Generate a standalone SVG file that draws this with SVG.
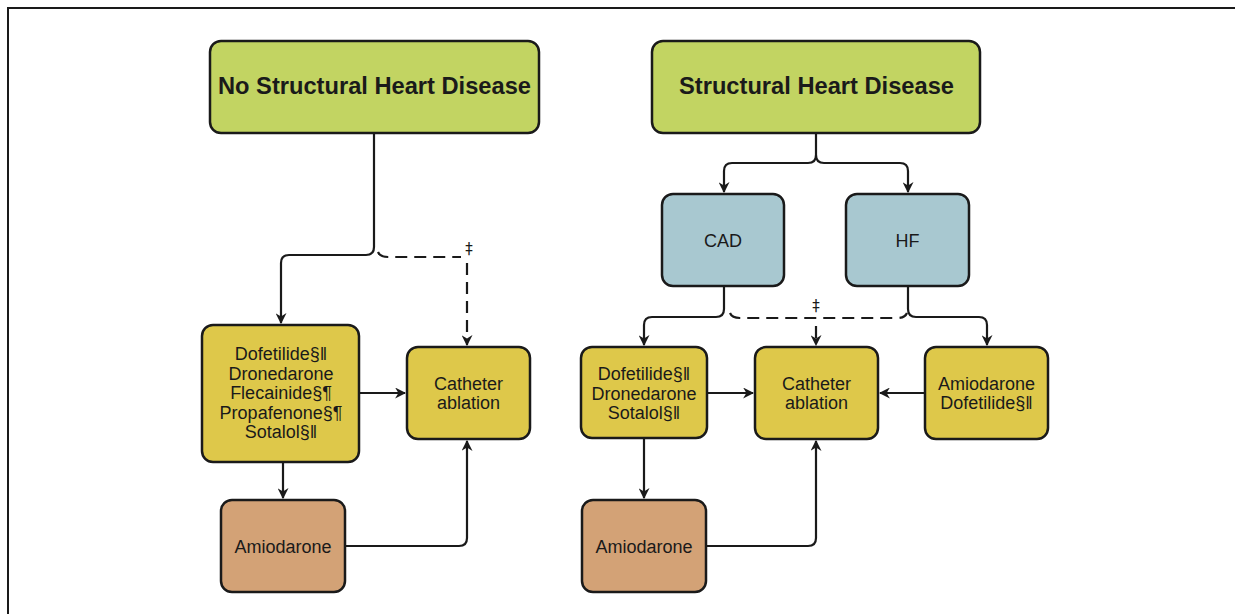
<svg xmlns="http://www.w3.org/2000/svg" width="1235" height="614" viewBox="0 0 1235 614">
<style>
.box{stroke:#1a1a1a;stroke-width:2.5}
.g{fill:#c2d462}.b{fill:#a8c8d0}.y{fill:#dec84a}.t{fill:#d3a276}
text{font-family:"Liberation Sans",Arial,sans-serif;fill:#1a1a1a;text-anchor:middle}
.h{font-weight:bold;font-size:24px}
.n{font-size:18px}
.dg{font-family:"DejaVu Sans",sans-serif;font-size:15px}
.c{fill:none;stroke:#1a1a1a;stroke-width:2.2}
.d{stroke-dasharray:12,7}
</style>
<defs>
<marker id="ar" viewBox="0 0 10 10" refX="9" refY="5" markerWidth="5" markerHeight="5" orient="auto" markerUnits="strokeWidth">
<path d="M0,0 L10,5 L0,10 L3,5 z" fill="#1a1a1a"/>
</marker>
</defs>
<path d="M8,614 V8 H1235" fill="none" stroke="#1a1a1a" stroke-width="2"/>
<g id="connectors">
<path class="c" d="M374,133 V247 Q374,255 366,255 H289 Q281,255 281,263 V323" marker-end="url(#ar)"/>
<path class="c d" d="M378,252 Q380,257 388,257 H461"/>
<path class="c d" d="M467,263 V345" marker-end="url(#ar)"/>
<text class="dg" x="469" y="254">‡</text>
<path class="c" d="M359,393 H405" marker-end="url(#ar)"/>
<path class="c" d="M283,462 V498" marker-end="url(#ar)"/>
<path class="c" d="M345,546 H459 Q467,546 467,538 V441" marker-end="url(#ar)"/>
<path class="c" d="M816,133 V155 Q816,163 808,163 H732 Q724,163 724,171 V192" marker-end="url(#ar)"/>
<path class="c" d="M816,155 Q816,163 824,163 H900 Q908,163 908,171 V192" marker-end="url(#ar)"/>
<path class="c" d="M724,286 V309 Q724,317 716,317 H652 Q644,317 644,325 V345" marker-end="url(#ar)"/>
<path class="c" d="M908,286 V309 Q908,317 916,317 H979 Q987,317 987,325 V345" marker-end="url(#ar)"/>
<path class="c d" d="M730,313 Q732,318 740,318 H897 Q905,318 907,313"/>
<path class="c d" d="M816,326 V345" marker-end="url(#ar)"/>
<text class="dg" x="816" y="311">‡</text>
<path class="c" d="M707,393 H753" marker-end="url(#ar)"/>
<path class="c" d="M925,393 H880" marker-end="url(#ar)"/>
<path class="c" d="M644,438 V498" marker-end="url(#ar)"/>
<path class="c" d="M706,546 H808 Q816,546 816,538 V441" marker-end="url(#ar)"/>
</g>
<g id="no-shd">
<rect class="box g" x="210" y="41" width="329" height="92" rx="11"/>
<text class="h" x="374.5" y="94" textLength="313" lengthAdjust="spacingAndGlyphs">No Structural Heart Disease</text>
</g>
<g id="shd">
<rect class="box g" x="652" y="41" width="328" height="92" rx="11"/>
<text class="h" x="816.5" y="94" textLength="275" lengthAdjust="spacingAndGlyphs">Structural Heart Disease</text>
</g>
<g id="cad">
<rect class="box b" x="662" y="194" width="122" height="92" rx="11"/>
<text class="n" x="723" y="246.5">CAD</text>
</g>
<g id="hf">
<rect class="box b" x="846" y="194" width="123" height="92" rx="11"/>
<text class="n" x="907.5" y="246.5">HF</text>
</g>
<g id="left-drugs">
<rect class="box y" x="202" y="325" width="157" height="137" rx="11"/>
<text class="n" x="281" y="360">Dofetilide§‖</text>
<text class="n" x="281" y="379.5">Dronedarone</text>
<text class="n" x="281" y="399">Flecainide§¶</text>
<text class="n" x="281" y="418.5">Propafenone§¶</text>
<text class="n" x="281" y="438">Sotalol§‖</text>
</g>
<g id="left-ablation">
<rect class="box y" x="407" y="347" width="123" height="92" rx="11"/>
<text class="n" x="468.5" y="389.5">Catheter</text>
<text class="n" x="468.5" y="408.5">ablation</text>
</g>
<g id="left-amio">
<rect class="box t" x="221" y="500" width="124" height="92" rx="11"/>
<text class="n" x="283" y="552.5">Amiodarone</text>
</g>
<g id="cad-drugs">
<rect class="box y" x="581" y="347" width="126" height="91" rx="11"/>
<text class="n" x="644" y="380">Dofetilide§‖</text>
<text class="n" x="644" y="399.5">Dronedarone</text>
<text class="n" x="644" y="419">Sotalol§‖</text>
</g>
<g id="right-ablation">
<rect class="box y" x="755" y="347" width="123" height="92" rx="11"/>
<text class="n" x="816.5" y="389.5">Catheter</text>
<text class="n" x="816.5" y="408.5">ablation</text>
</g>
<g id="hf-drugs">
<rect class="box y" x="925" y="347" width="123" height="92" rx="11"/>
<text class="n" x="986.5" y="389.5">Amiodarone</text>
<text class="n" x="986.5" y="409">Dofetilide§‖</text>
</g>
<g id="right-amio">
<rect class="box t" x="582" y="500" width="124" height="92" rx="11"/>
<text class="n" x="644" y="552.5">Amiodarone</text>
</g>
</svg>
